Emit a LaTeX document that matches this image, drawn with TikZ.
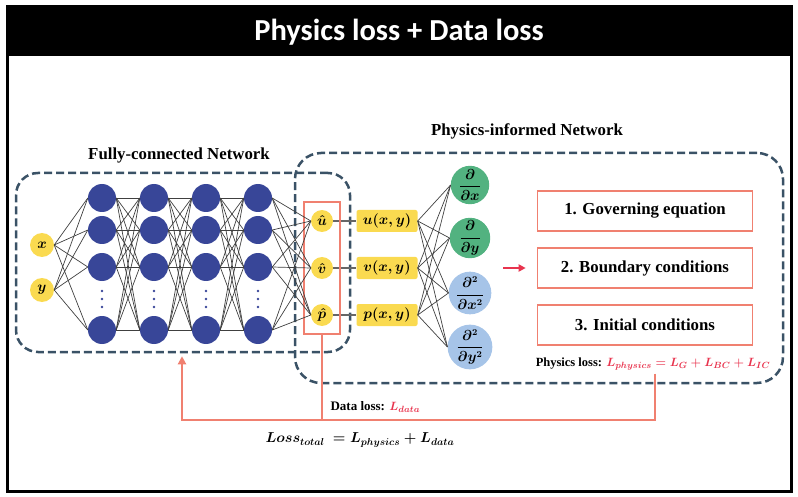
\documentclass[tikz,border=0pt]{standalone}
\usepackage{amsmath}
\usepackage{fontspec}
\setmainfont{Liberation Serif}
\newfontfamily\titlefont{Carlito}
\usepackage{xcolor}
\usepackage{tikz}
\usetikzlibrary{positioning, calc, arrows.meta, fit}
\definecolor{PINNYellow}{RGB}{250,218,80}
\definecolor{PINNBlue}{RGB}{56,70,152}
\definecolor{PINNGreen}{RGB}{82,178,128}
\definecolor{PINNSky}{RGB}{166,196,232}
\definecolor{PINNSlate}{RGB}{58,82,102}
\definecolor{PINNSalmon}{RGB}{240,128,112}
\definecolor{PINNRed}{RGB}{232,52,78}

\tikzset{
  inode/.style={circle, fill=PINNYellow, minimum size=24pt, inner sep=0pt,
    font=\boldmath\fontsize{15}{16}\selectfont},
  hnode/.style={circle, fill=PINNBlue, minimum size=28pt, inner sep=0pt},
  onode/.style={circle, fill=PINNYellow, minimum size=22pt, inner sep=0pt,
    font=\boldmath\fontsize{14}{15}\selectfont},
  fbox/.style={rectangle, rounded corners=2pt, fill=PINNYellow, minimum width=61pt,
    minimum height=22pt, inner sep=0pt, font=\boldmath\fontsize{14.5}{16}\selectfont},
  dnode/.style={circle, minimum size=38pt, inner sep=0pt,
    font=\boldmath\fontsize{13.5}{15}\selectfont},
  lossbox/.style={rectangle, draw=PINNSalmon, line width=1.6pt, minimum width=215pt,
    minimum height=40pt, font=\bfseries\fontsize{16.8}{19}\selectfont},
  dashbox/.style={rectangle, draw=PINNSlate, line width=2.5pt,
    dash pattern=on 8pt off 4pt, inner sep=0pt},
  wire/.style={draw=black!75, line width=0.7pt},
  lossline/.style={draw=PINNSalmon, line width=2pt},
  caption/.style={font=\bfseries\fontsize{16.8}{19}\selectfont}
}

\begin{document}
\begin{tikzpicture}[x=1pt,y=-1pt]
  \path[use as bounding box] (0,0) rectangle (798,497);

  % title bar
  \fill[black] (7,7) rectangle (791,56);
  \node[text=white, font=\titlefont\bfseries\fontsize{30.5}{34}\selectfont] (title) at (399,32) {Physics loss + Data loss};

  % dashed groups
  \node[dashbox, rounded corners=22pt, minimum width=334pt, minimum height=179pt] (fcnet) at (183,262.5) {};
  \node[dashbox, rounded corners=26pt, minimum width=488pt, minimum height=230pt] (pinet) at (539,268) {};
  \node[caption] (fclabel) at (179,155) {Fully-connected Network};
  \node[caption] (pilabel) at (527,131) {Physics-informed Network};

  % inputs
  \node[inode] (in1) at (42,245) {$x$};
  \node[inode] (in2) at (42,290) {$y$};

  % hidden layers
  \foreach \c/\x in {1/102,2/154,3/206,4/258}{
    \foreach \r/\y in {1/198,2/230,3/267,4/330}
      \node[hnode] (h\c-\r) at (\x,\y) {};
    \foreach \y in {291,299,307}
      \fill[PINNBlue] (\x,\y) circle (1.4pt);
  }

  % outputs
  \foreach \i/\y/\t in {1/221/u,2/268/v,3/315/p}{
    \node[onode] (out\i) at (322,\y) {$\hat{\t}$};
    \node[fbox] (f\i) at (387,\y) {$\t(x,y)$};
    \draw[draw=black!60, line width=1.1pt] (out\i) -- (f\i);
  }
  \node[draw=PINNSalmon, line width=1.6pt, inner xsep=7pt, inner ysep=8pt, fit=(out1)(out3)] (outbox) {};

  % derivatives
  \node[dnode, fill=PINNGreen] (d1) at (470,185) {$\displaystyle\frac{\partial}{\partial x}$};
  \node[dnode, fill=PINNGreen] (d2) at (470,238) {$\displaystyle\frac{\partial}{\partial y}$};
  \node[dnode, fill=PINNSky] (d3) at (470,293) {$\displaystyle\frac{\partial^2}{\partial x^2}$};
  \node[dnode, fill=PINNSky] (d4) at (470,347) {$\displaystyle\frac{\partial^2}{\partial y^2}$};

  % wires
  \foreach \a in {1,2}
    \foreach \b in {1,...,4}
      \draw[wire] (in\a.east) -- (h1-\b.west);
  \foreach \c/\n in {1/2,2/3,3/4}
    \foreach \a in {1,...,4}
      \foreach \b in {1,...,4}
        \draw[wire] (h\c-\a.east) -- (h\n-\b.west);
  \foreach \a in {1,...,4}
    \foreach \b in {1,2,3}
      \draw[wire] (h4-\a.east) -- (out\b.west);
  \foreach \a in {1,2,3}
    \foreach \b in {1,...,4}
      \draw[wire] (f\a.east) -- (d\b.west);

  % loss terms
  \node[lossbox] (loss1) at (645,211) {1. Governing equation};
  \node[lossbox] (loss2) at (645,268) {2. Boundary conditions};
  \node[lossbox] (loss3) at (645,325) {3. Initial conditions};
  \coordinate (arrS) at (503,268);
  \draw[PINNRed, line width=2pt, -{Triangle[length=7pt,width=7pt]}, shorten >=11pt] (arrS) -- (loss2.west);

  \node[font=\bfseries\boldmath\fontsize{12.5}{14}\selectfont] (phys) at (653,364)
    {Physics loss: \textcolor{PINNRed}{$L_{physics}=L_G+L_{BC}+L_{IC}$}};

  % feedback
  \coordinate (pjoin) at (655,420);
  \coordinate (fcorner) at (182,420);
  \draw[lossline] (outbox.south) -- (outbox.south |- pjoin);
  \draw[lossline, -{Triangle[length=8pt,width=8pt]}, shorten >=3pt]
    (phys.south -| pjoin) -- (pjoin) -- (fcorner) -- (fcorner |- fcnet.south);
  \node[anchor=west, font=\bfseries\boldmath\fontsize{13}{15}\selectfont] (dataloss) at (327,407)
    {Data loss: \textcolor{PINNRed}{$L_{data}$}};
  \node[font=\boldmath\fontsize{14}{16}\selectfont] (total) at (360,440)
    {$Loss_{total}\ =L_{physics}+L_{data}$};

  % frame
  \draw[black, line width=3pt] (7,7) rectangle (791,491);
\end{tikzpicture}
\end{document}
